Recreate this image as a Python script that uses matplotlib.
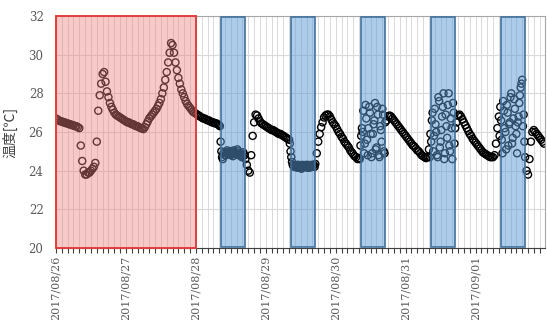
import matplotlib
matplotlib.use("Agg")
import matplotlib.pyplot as plt
import matplotlib.dates as mdates
import pandas as pd

# --- data: 30 min readings per day (00:00 .. 23:30) ---
days = ["2017-08-26", "2017-08-27", "2017-08-28", "2017-08-29",
        "2017-08-30", "2017-08-31", "2017-09-01"]

temp_0826 = [26.7, 26.65, 26.6, 26.55, 26.55, 26.5, 26.5, 26.45,
             26.45, 26.4, 26.4, 26.35, 26.35, 26.3, 26.3, 26.25,
             26.2, 25.3, 24.5, 24.0, 23.8, 23.8, 23.9, 23.9,
             24.0, 24.1, 24.2, 24.4, 25.5, 27.1, 27.9, 28.5,
             29.0, 29.1, 28.6, 28.1, 27.8, 27.5, 27.3, 27.15,
             27.0, 26.9, 26.85, 26.8, 26.75, 26.7, 26.65, 26.6]
temp_0827 = [26.55, 26.5, 26.5, 26.45, 26.4, 26.4, 26.35, 26.3,
             26.3, 26.25, 26.2, 26.2, 26.15, 26.25, 26.4, 26.55,
             26.7, 26.8, 26.9, 27.0, 27.1, 27.2, 27.35, 27.5,
             27.7, 28.0, 28.3, 28.7, 29.1, 29.6, 30.1, 30.6,
             30.5, 30.1, 29.6, 29.2, 28.8, 28.5, 28.2, 28.0,
             27.8, 27.6, 27.45, 27.35, 27.25, 27.15, 27.05, 27.0]
temp_0828 = [26.95, 26.9, 26.85, 26.8, 26.75, 26.7, 26.7, 26.65,
             26.6, 26.6, 26.55, 26.5, 26.5, 26.45, 26.45, 26.4,
             26.35, 25.5, 24.7, 24.9, 24.8, 24.95, 24.85, 25.0,
             24.8, 24.9, 25.05, 24.85, 24.9, 25.0, 24.8, 24.9,
             24.75, 24.85, 24.6, 24.3, 24.0, 23.9, 24.8, 25.8,
             26.5, 26.9, 26.85, 26.7, 26.55, 26.45, 26.4, 26.35]
temp_0829 = [26.3, 26.25, 26.2, 26.15, 26.1, 26.1, 26.05, 26.0,
             25.95, 25.9, 25.9, 25.85, 25.8, 25.75, 25.7, 25.65,
             25.6, 25.0, 24.45, 24.25, 24.2, 24.3, 24.2, 24.25,
             24.15, 24.3, 24.2, 24.25, 24.2, 24.3, 24.15, 24.25,
             24.2, 24.3, 24.35, 24.9, 25.5, 25.9, 26.25, 26.5,
             26.75, 26.85, 26.9, 26.9, 26.8, 26.65, 26.5, 26.4]
temp_0830 = [26.3, 26.15, 26.0, 25.9, 25.75, 25.65, 25.5, 25.4,
             25.3, 25.2, 25.05, 24.95, 24.85, 24.75, 24.7, 24.6,
             24.65, 25.3, 26.2, 27.1, 25.4, 26.7, 24.8, 27.3,
             25.9, 24.9, 26.4, 27.5, 25.2, 26.9, 24.7, 26.1,
             27.2, 25.0, 26.5, 26.6, 26.8, 26.85, 26.8, 26.7,
             26.6, 26.5, 26.4, 26.3, 26.2, 26.1, 26.0, 25.9]
temp_0831 = [25.8, 25.7, 25.6, 25.5, 25.4, 25.3, 25.25, 25.15,
             25.05, 25.0, 24.9, 24.8, 24.75, 24.7, 24.65, 24.7,
             25.1, 25.9, 26.6, 25.0, 27.2, 26.0, 24.7, 27.6,
             25.5, 26.8, 28.0, 24.9, 26.3, 27.4, 25.3, 26.7,
             24.6, 27.0, 26.2, 26.5, 26.85, 26.9, 26.8, 26.65,
             26.5, 26.35, 26.2, 26.05, 25.9, 25.8, 25.65, 25.55]
temp_0901 = [25.45, 25.35, 25.25, 25.15, 25.05, 24.95, 24.9, 24.85,
             24.8, 24.75, 24.7, 24.7, 24.7, 24.8, 25.4, 26.2,
             26.8, 27.3, 25.6, 27.6, 26.2, 25.1, 27.0, 26.4,
             27.8, 25.4, 26.7, 27.2, 25.9, 26.5, 27.5, 28.3,
             28.7, 26.9, 24.7, 24.0, 23.8, 24.6, 25.5, 26.0,
             26.1, 26.0, 25.9, 25.8, 25.7, 25.6, 25.5, 25.4]
daily_temps = [temp_0826, temp_0827, temp_0828, temp_0829,
               temp_0830, temp_0831, temp_0901]

# extra readings during working hours (08:15 .. 16:45)
band_days = ["2017-08-28", "2017-08-29", "2017-08-30", "2017-08-31", "2017-09-01"]
extra_0828 = [26.3, 25.0, 24.6, 24.95, 24.8, 25.05, 24.9, 24.85, 25.0,
              24.75, 24.95, 24.85, 25.1, 24.8, 24.9, 24.7, 24.95, 24.8]
extra_0829 = [25.4, 24.7, 24.3, 24.2, 24.25, 24.15, 24.3, 24.2, 24.1,
              24.25, 24.2, 24.3, 24.15, 24.25, 24.2, 24.3, 24.25, 24.2]
extra_0830 = [24.6, 25.8, 26.0, 24.9, 27.4, 25.6, 26.2, 27.0, 24.7,
              25.9, 26.6, 25.1, 27.3, 24.8, 26.3, 25.5, 26.9, 24.9]
extra_0831 = [24.7, 25.5, 27.0, 25.8, 26.4, 24.8, 27.8, 25.2, 26.1,
              27.3, 24.6, 26.9, 25.7, 28.0, 25.0, 26.2, 27.5, 25.4]
extra_0901 = [25.8, 26.6, 24.9, 27.1, 26.0, 27.4, 25.3, 26.5, 28.0,
              25.7, 27.7, 26.3, 24.9, 26.8, 27.9, 28.5, 26.3, 25.5]
band_extras = [extra_0828, extra_0829, extra_0830, extra_0831, extra_0901]

# highlighted periods
weekend_start, weekend_end = "2017-08-26 00:00", "2017-08-28 00:00"
work_start, work_end = "08:45", "16:50"

times = []
values = []
for day, temps in zip(days, daily_temps):
    times.extend(pd.date_range(day, periods=len(temps), freq="30min"))
    values.extend(temps)
for day, temps in zip(band_days, band_extras):
    times.extend(pd.date_range(f"{day} 08:15", periods=len(temps), freq="30min"))
    values.extend(temps)

fig = plt.figure(figsize=(5.47, 3.2), dpi=100)
ax = fig.add_axes([56 / 547, 72 / 320, 489 / 547, 232 / 320])

ax.scatter(times, values, s=26, facecolors="none", edgecolors="black",
           linewidths=1.0, zorder=2)

# weekend block and working-hour bands drawn over the data
ax.axvspan(pd.Timestamp(weekend_start), pd.Timestamp(weekend_end), ymin=0, ymax=1,
           facecolor="#f08080", alpha=0.42, edgecolor="none", zorder=3)
ax.axvspan(pd.Timestamp(weekend_start), pd.Timestamp(weekend_end), ymin=0, ymax=1,
           facecolor="none", edgecolor="#e0403c", linewidth=1.4, zorder=4,
           clip_on=False)
for day in band_days:
    s = pd.Timestamp(f"{day} {work_start}")
    e = pd.Timestamp(f"{day} {work_end}")
    ax.axvspan(s, e, ymin=0.004, ymax=0.996, facecolor="#5b9bd5", alpha=0.5,
               edgecolor="none", zorder=3)
    ax.axvspan(s, e, ymin=0.004, ymax=0.996, facecolor="none",
               edgecolor="#41719c", linewidth=1.2, zorder=4)

ax.set_xlim(pd.Timestamp("2017-08-26"), pd.Timestamp("2017-09-01 23:50"))
ax.set_ylim(20, 32)
ax.set_yticks(range(20, 33, 2))

ax.xaxis.set_major_locator(mdates.DayLocator())
ax.xaxis.set_major_formatter(mdates.DateFormatter("%Y/%m/%d"))
ax.xaxis.set_minor_locator(mdates.HourLocator(byhour=range(0, 24, 2)))

ax.grid(axis="y", which="major", color="#d9d9d9", linewidth=0.8, zorder=0)
ax.grid(axis="x", which="both", color="#d9d9d9", linewidth=0.7, zorder=0)
ax.set_axisbelow(True)

ax.tick_params(axis="x", which="both", direction="out", length=3.5, width=0.8,
               color="#404040", pad=2)
ax.tick_params(axis="y", length=0, pad=9)
for lab in ax.get_xticklabels():
    lab.set_rotation(90)
    lab.set_fontfamily("DejaVu Serif")
    lab.set_fontsize(8)
    lab.set_color("#595959")
for lab in ax.get_yticklabels():
    lab.set_fontfamily("DejaVu Serif")
    lab.set_fontsize(8.5)
    lab.set_color("#595959")

for side in ["top", "right", "left"]:
    ax.spines[side].set_color("#a6a6a6")
    ax.spines[side].set_linewidth(0.8)
ax.spines["bottom"].set_color("#404040")
ax.spines["bottom"].set_linewidth(0.8)

ax.set_ylabel("温度[℃]", fontfamily=["Noto Sans CJK JP", "DejaVu Sans"],
              fontsize=10, color="#404040", labelpad=8)

fig.savefig("out.png", dpi=100)
